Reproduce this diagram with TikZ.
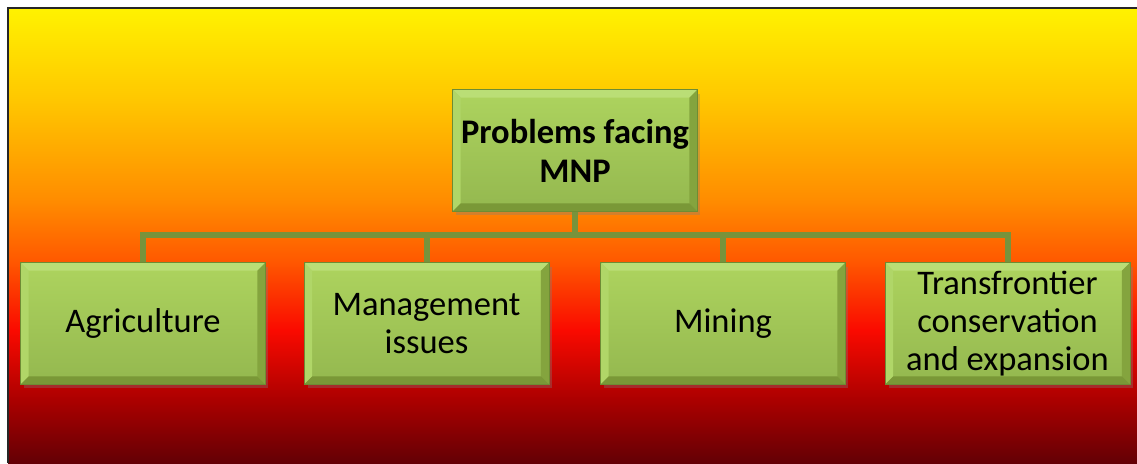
\documentclass[tikz,border=0pt]{standalone}
\usepackage{fontspec}
\setmainfont{Carlito}
\usetikzlibrary{shadows}
\definecolor{connc}{RGB}{119,147,60}
\definecolor{boxline}{RGB}{110,140,52}
\definecolor{bevtopc}{RGB}{186,222,118}
\definecolor{bevleftc}{RGB}{176,214,104}
\definecolor{bevrightc}{RGB}{132,164,62}
\definecolor{bevbotc}{RGB}{122,152,55}
\pgfdeclareverticalshading{bgshade}{100bp}{rgb(0bp)=(0.39,0,0.02); rgb(25bp)=(0.39,0,0.02); rgb(31.9bp)=(0.67,0,0); rgb(39.6bp)=(0.98,0.04,0); rgb(47.3bp)=(1,0.35,0); rgb(53.9bp)=(1,0.55,0); rgb(64.9bp)=(1,0.78,0); rgb(75bp)=(1,0.95,0); rgb(100bp)=(1,0.95,0)}
\pgfdeclareverticalshading{boxshade}{100bp}{rgb(0bp)=(0.58,0.72,0.31); rgb(25bp)=(0.58,0.72,0.31); rgb(75bp)=(0.68,0.83,0.37); rgb(100bp)=(0.68,0.83,0.37)}
\begin{document}
\begin{tikzpicture}[x=1pt,y=-1pt,
  box/.style={minimum width=244pt, minimum height=121pt, inner sep=0pt, align=center,
    font=\fontsize{34.5}{38}\selectfont, shading=boxshade, draw=boxline, line width=0.8pt,
    drop shadow={shadow xshift=3pt, shadow yshift=-4pt, opacity=0.35}},
  titlebox/.style={box, font=\fontsize{34.5}{39}\selectfont\bfseries},
  conn/.style={line width=6pt, draw=connc}]
\useasboundingbox (0,0) rectangle (1137,463);
\fill[white] (0,0) rectangle (1137,463);
\shade[shading=bgshade] (8,8) rectangle (1137,463);
\draw[line width=2.5pt, black!85] (8,463) -- (8,8) -- (1137,8);

\node[titlebox] (top) at (575,150.5) {Problems facing\\MNP};
\node[box] (agri) at (143,323.5) {Agriculture};
\node[box] (mgmt) at (426.5,323.5) {Management\\issues};
\node[box] (mining) at (723,323.5) {Mining};
\node[box] (trans) at (1007.5,323.5) {Transfrontier\\conservation\\and expansion};

\coordinate (bar) at (575,235);
\draw[conn] (top.south) -- (top.south |- bar);
\draw[conn] (agri.north) -- (agri.north |- bar) -- (trans.north |- bar) -- (trans.north);
\draw[conn] (mgmt.north) -- (mgmt.north |- bar);
\draw[conn] (mining.north) -- (mining.north |- bar);

\foreach \n in {top,agri,mgmt,mining,trans}{
  \fill[bevtopc] (\n.north west) -- (\n.north east) -- ([shift={(-8,8)}]\n.north east) -- ([shift={(8,8)}]\n.north west) -- cycle;
  \fill[bevleftc] (\n.north west) -- ([shift={(8,8)}]\n.north west) -- ([shift={(8,-8)}]\n.south west) -- (\n.south west) -- cycle;
  \fill[bevrightc] (\n.north east) -- ([shift={(-8,8)}]\n.north east) -- ([shift={(-8,-8)}]\n.south east) -- (\n.south east) -- cycle;
  \fill[bevbotc] (\n.south west) -- ([shift={(8,-8)}]\n.south west) -- ([shift={(-8,-8)}]\n.south east) -- (\n.south east) -- cycle;
  \draw[boxline, line width=0.8pt] (\n.north west) rectangle (\n.south east);
}
\end{tikzpicture}
\end{document}
